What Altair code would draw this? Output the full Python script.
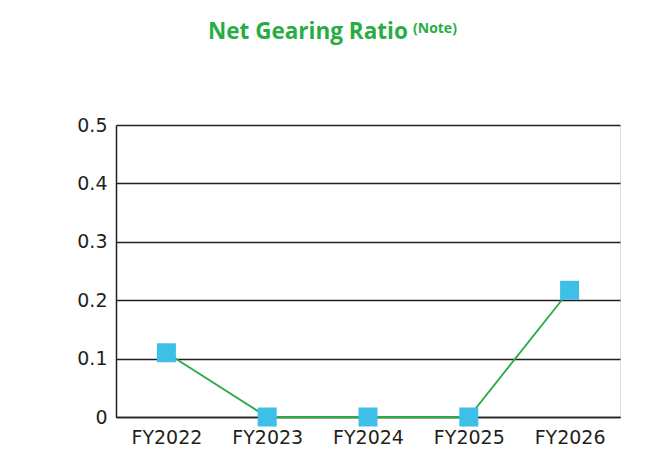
import altair as alt
import pandas as pd

years = ["FY2022", "FY2023", "FY2024", "FY2025", "FY2026"]
ratio = [0.11, 0.0, 0.0, 0.0, 0.217]
y_ticks = [0, 0.1, 0.2, 0.3, 0.4, 0.5]

df = pd.DataFrame({"year": years, "ratio": ratio})

FONT = "DejaVu Sans"
TFONT = "Open Sans"
DARK = "#231f20"
GREEN = "#2aac45"

x = alt.X("year:N", sort=years, title=None,
          scale=alt.Scale(type="point", padding=0.5),
          axis=alt.Axis(labelAngle=0, labelFontSize=19, labelFont=FONT, labelColor=DARK,
                        ticks=False, domain=True, domainColor=DARK, domainWidth=1.5,
                        labelPadding=11, grid=False))
y = alt.Y("ratio:Q", title=None,
          scale=alt.Scale(domain=[0, 0.5], nice=False, zero=True),
          axis=alt.Axis(values=y_ticks, labelFontSize=19, labelFont=FONT, labelColor=DARK,
                        ticks=False, domain=True, domainColor=DARK, domainWidth=1.5,
                        grid=True, gridColor=DARK, gridWidth=1.3, gridOpacity=1,
                        labelPadding=9, labelBaseline="middle",
                        labelExpr="datum.value == 0 ? '0' : format(datum.value, '.1f')"))

base = alt.Chart(df)
line = base.mark_line(color=GREEN, strokeWidth=1.8).encode(x=x, y=y)
pts = base.mark_point(shape="square", filled=True, size=361, color="#3dbfe8", opacity=1).encode(x=x, y=y)

title_df = pd.DataFrame({"t": ["Net Gearing Ratio"]})
title = alt.Chart(title_df).mark_text(font=TFONT, fontSize=22.5, fontWeight="bold", color=GREEN,
                                      align="left", baseline="alphabetic").encode(
    text="t:N", x=alt.value(92), y=alt.value(-86))
note_df = pd.DataFrame({"t": ["(Note)"]})
note = alt.Chart(note_df).mark_text(font=TFONT, fontSize=14, fontWeight="bold", color=GREEN,
                                    align="left", baseline="alphabetic").encode(
    text="t:N", x=alt.value(297), y=alt.value(-92))

chart = alt.layer(line, pts, title, note).properties(
    width=504, height=292,
    autosize=alt.AutoSizeParams(type="none"),
    padding={"left": 108, "top": 117, "right": 20, "bottom": 50},
).configure_view(stroke=None).configure(background="white")

chart.save("out.html", embed_options={"renderer": "svg", "actions": False})
